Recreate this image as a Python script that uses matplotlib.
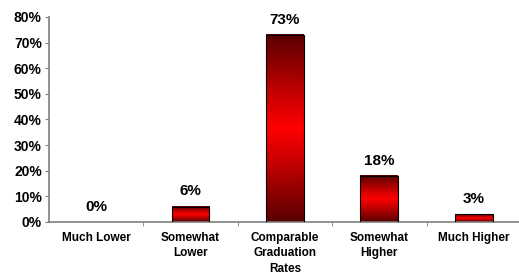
import numpy as np
import matplotlib.pyplot as plt
from matplotlib.colors import LinearSegmentedColormap

categories = ['Much Lower', 'Somewhat\nLower', 'Comparable\nGraduation\nRates',
              'Somewhat\nHigher', 'Much Higher']
values = [0, 6, 73, 18, 3]
value_labels = ['0%', '6%', '73%', '18%', '3%']
y_ticks = [0, 10, 20, 30, 40, 50, 60, 70, 80]

plt.rcParams['font.family'] = ['Liberation Sans', 'DejaVu Sans']
plt.rcParams['font.weight'] = 'bold'

fig = plt.figure(figsize=(5.19, 2.74), dpi=100)
ax = fig.add_axes([0.094, 0.19, 0.91, 0.748])

# dark at top and bottom, bright red in the middle
cmap = LinearSegmentedColormap.from_list(
    'redgrad', [(0, '#580000'), (0.3, '#c00000'), (0.5, '#ff0000'),
                (0.7, '#c00000'), (1, '#580000')])
grad = np.linspace(0, 1, 256).reshape(-1, 1)

x = np.arange(len(categories))
width = 0.40
for xi, v, lab in zip(x, values, value_labels):
    if v > 0:
        ax.imshow(grad, cmap=cmap, aspect='auto', interpolation='bicubic',
                  extent=(xi - width / 2, xi + width / 2, 0, v), zorder=2)
        ax.add_patch(plt.Rectangle((xi - width / 2, 0), width, v, fill=False,
                                   edgecolor='black', linewidth=0.8, zorder=3))
    ax.text(xi, v + 3.2, lab, ha='center', va='bottom', fontsize=11,
            fontweight='bold', color='black')

ax.set_xlim(-0.5, 4.5)
ax.set_ylim(0, 80)

ax.set_yticks(y_ticks)
ax.set_yticklabels([f'{t}%' for t in y_ticks], fontsize=10, fontweight='bold')
ax.set_xticks(x)
ax.set_xticklabels(categories, fontsize=8.5, fontweight='bold', linespacing=1.38)
ax.set_xticks(np.arange(0.5, 4.5, 1), minor=True)
ax.tick_params(axis='x', which='major', length=0, pad=7)
ax.tick_params(axis='x', which='minor', length=3, color='#808080', direction='out')
ax.tick_params(axis='y', length=3, color='#808080', direction='out', pad=2)

for s in ['top', 'right']:
    ax.spines[s].set_visible(False)
for s in ['left', 'bottom']:
    ax.spines[s].set_color('#808080')
    ax.spines[s].set_linewidth(1.2)

fig.savefig('out.png', dpi=100)
